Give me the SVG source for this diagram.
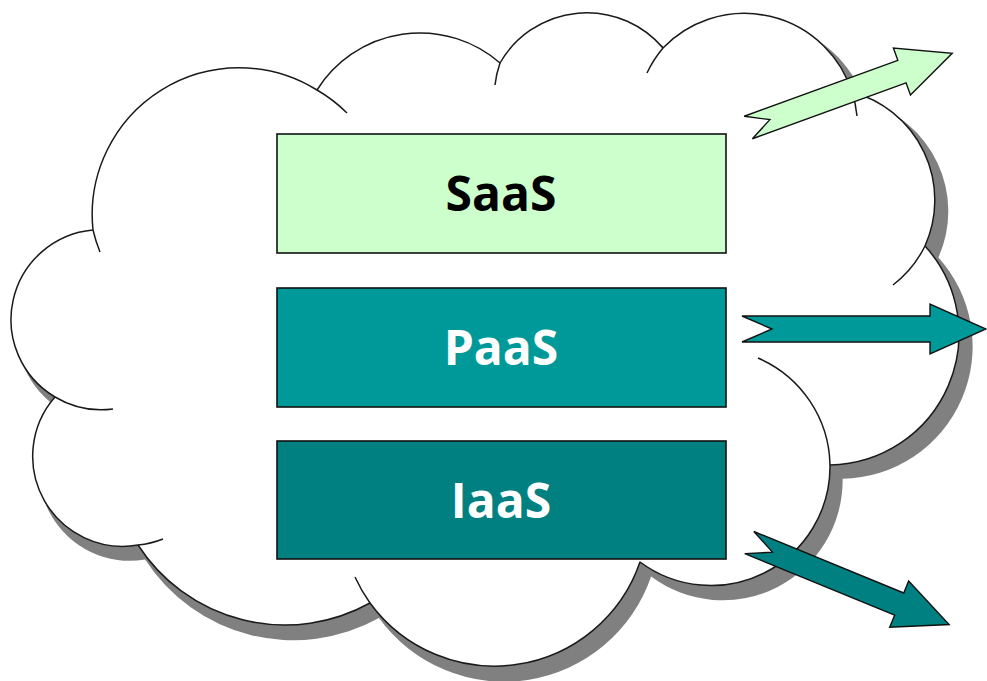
<svg xmlns="http://www.w3.org/2000/svg" width="987" height="681" viewBox="0 0 987 681">
  <style>
    .outline { stroke: #1a1a1a; stroke-width: 1.5; stroke-linejoin: round; }
    .tick { fill: none; stroke: #1a1a1a; stroke-width: 1.5; }
    .box { stroke: #111; stroke-width: 1.6; }
    .lbl { font-family: "Open Sans", "Liberation Sans", sans-serif; font-weight: bold; font-size: 48px; text-anchor: middle; }
    .arrow { stroke: #111; stroke-width: 1.4; stroke-linejoin: miter; }
  </style>
  <defs>
    <path id="cloudPath" d="M93 230 A147 147 0 0 1 317 90 A121.5 121.5 0 0 1 500 63 A100 100 0 0 1 663 48 A113 113 0 0 1 852 92 A112 112 0 0 1 925 246 A131 131 0 0 1 830 465 A119 119 0 0 1 640 562 A154 154 0 0 1 370 603 A175 175 0 0 1 138 545 A90 90 0 0 1 55 397 A90 90 0 0 1 93 230 Z"/>
  </defs>
  <rect width="987" height="681" fill="#ffffff"/>

  <g id="cloud">
    <use href="#cloudPath" fill="#808080" transform="translate(6,9) scale(1.008,1.01)"/>
    <use href="#cloudPath" class="outline" fill="#ffffff"/>
    <path class="tick" d="M93 230 A147 147 0 0 0 100 252"/>
    <path class="tick" d="M317 90 A147 147 0 0 1 347 113"/>
    <path class="tick" d="M500 63 A100 100 0 0 0 495 85"/>
    <path class="tick" d="M663 48 A113 113 0 0 0 647 73"/>
    <path class="tick" d="M852 92 A113 113 0 0 1 857 116"/>
    <path class="tick" d="M925 246 A112 112 0 0 1 893 285"/>
    <path class="tick" d="M830 465 A119 119 0 0 0 758 358"/>
    <path class="tick" d="M370 603 A154 154 0 0 1 355 577"/>
    <path class="tick" d="M138 545 A90 90 0 0 0 163 539"/>
    <path class="tick" d="M55 397 A90 90 0 0 0 113 409"/>
  </g>

  <g id="saas">
    <rect class="box" x="277" y="134" width="449" height="119" fill="#ccffcc"/>
    <text class="lbl" x="501" y="211" fill="#000000">SaaS</text>
  </g>
  <g id="paas">
    <rect class="box" x="277" y="288" width="449" height="119" fill="#009999"/>
    <text class="lbl" x="501" y="365" fill="#ffffff">PaaS</text>
  </g>
  <g id="iaas">
    <rect class="box" x="277" y="441" width="449" height="118" fill="#008080"/>
    <text class="lbl" x="501" y="518" fill="#ffffff">IaaS</text>
  </g>

  <g id="connectors">
    <polygon class="arrow" fill="#ccffcc" transform="translate(748.3,127.5) rotate(-20)" points="0,-12 163.5,-12 163.5,-25 217,0 163.5,25 163.5,12 0,12 23,0"/>
    <polygon class="arrow" fill="#009999" transform="translate(742,329)" points="0,-13 188,-13 188,-25 244,0 188,25 188,13 0,13 30,0"/>
    <polygon class="arrow" fill="#008080" transform="translate(749.3,542.6) rotate(22.3)" points="0,-12 162,-12 162,-25 216,0 162,25 162,12 0,12 25,0"/>
  </g>
</svg>
